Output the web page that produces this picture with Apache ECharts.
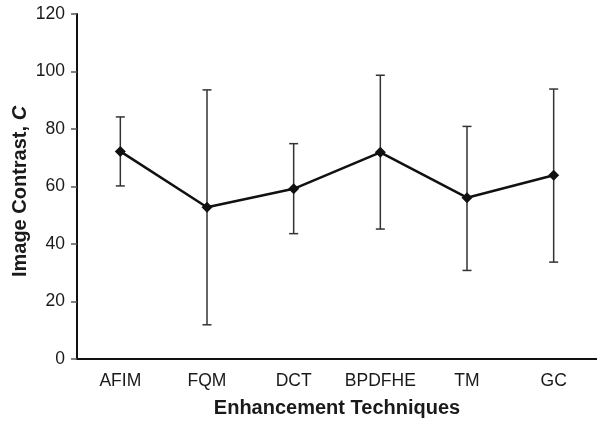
<!DOCTYPE html>
<html>
<head>
<meta charset="utf-8">
<script src="https://cdn.jsdelivr.net/npm/echarts@6/dist/echarts.min.js"></script>
<style>
  html, body { margin: 0; padding: 0; background: #fff; }
  #chart { width: 597px; height: 421px; }
</style>
</head>
<body>
<div id="chart"></div>
<script>
// Enhancement techniques compared by mean image contrast with spread
const techniques = ['AFIM', 'FQM', 'DCT', 'BPDFHE', 'TM', 'GC'];
const contrastMean = [72.2, 52.8, 59.2, 71.9, 56.1, 63.9];
const contrastHigh = [84.2, 93.6, 74.9, 98.7, 80.9, 93.9];
const contrastLow = [60.2, 11.9, 43.6, 45.2, 30.8, 33.7];
const yTicks = [0, 20, 40, 60, 80, 100, 120];

const errorData = techniques.map((t, i) => [i, contrastLow[i], contrastHigh[i]]);

const chart = echarts.init(document.getElementById('chart'), null, { renderer: 'canvas' });

const fontFamily = '"Liberation Sans", Arial, Helvetica, sans-serif';

chart.setOption({
  animation: false,
  backgroundColor: '#ffffff',
  grid: { left: 77, right: 0, top: 14, bottom: 62, containLabel: false, outerBoundsMode: 'none' },
  xAxis: {
    type: 'category',
    data: techniques,
    boundaryGap: true,
    name: 'Enhancement Techniques',
    nameLocation: 'middle',
    nameGap: 39,
    nameMoveOverlap: false,
    nameTextStyle: { fontFamily, fontSize: 20, fontWeight: 'bold', color: '#1a1a1a' },
    axisLine: { lineStyle: { color: '#111', width: 2 } },
    axisTick: { length: 4, interval: 0, lineStyle: { color: '#555', width: 1.5 } },
    axisLabel: { fontFamily, fontSize: 17.5, color: '#1a1a1a', margin: 13, interval: 0 }
  },
  yAxis: {
    type: 'value',
    min: yTicks[0],
    max: yTicks[yTicks.length - 1],
    interval: yTicks[1] - yTicks[0],
    name: '{n|Image Contrast, }{c|C}',
    nameLocation: 'middle',
    nameGap: 47,
    nameMoveOverlap: false,
    nameTextStyle: {
      fontFamily, fontSize: 20, fontWeight: 'bold', color: '#1a1a1a',
      padding: [0, 10, 0, 0],
      rich: {
        n: { fontFamily, fontSize: 20, fontWeight: 'bold', color: '#1a1a1a' },
        c: { fontFamily, fontSize: 20, fontWeight: 'bold', fontStyle: 'italic', color: '#1a1a1a' }
      }
    },
    axisLine: { show: true, lineStyle: { color: '#111', width: 2 } },
    axisTick: { show: true, length: 6, lineStyle: { color: '#555', width: 1.5 } },
    axisLabel: { fontFamily, fontSize: 17.5, color: '#1a1a1a', margin: 12 },
    splitLine: { show: false }
  },
  series: [
    {
      type: 'custom',
      name: 'range',
      z: 2,
      data: errorData,
      renderItem: function (params, api) {
        const x = api.value(0);
        const lo = api.coord([x, api.value(1)]);
        const hi = api.coord([x, api.value(2)]);
        const half = 4.5;
        const style = { stroke: '#333', lineWidth: 1.5, fill: null };
        return {
          type: 'group',
          children: [
            { type: 'line', shape: { x1: hi[0], y1: hi[1], x2: lo[0], y2: lo[1] }, style },
            { type: 'line', shape: { x1: hi[0] - half, y1: hi[1], x2: hi[0] + half, y2: hi[1] }, style },
            { type: 'line', shape: { x1: lo[0] - half, y1: lo[1], x2: lo[0] + half, y2: lo[1] }, style }
          ]
        };
      }
    },
    {
      type: 'line',
      name: 'contrast',
      z: 3,
      data: contrastMean,
      symbol: 'diamond',
      symbolSize: 11,
      lineStyle: { color: '#111', width: 2.5 },
      itemStyle: { color: '#111' }
    }
  ]
});
</script>
</body>
</html>
